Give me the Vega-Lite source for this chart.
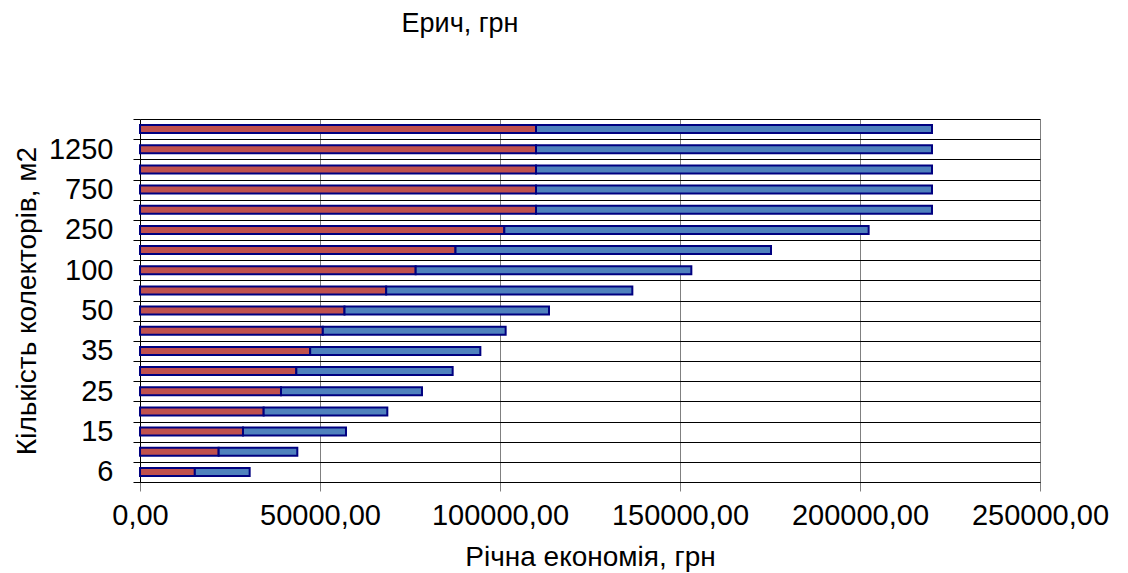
{
  "$schema": "https://vega.github.io/schema/vega-lite/v6.json",
  "width": 900,
  "height": 363,
  "autosize": {"type": "none"},
  "padding": {"left": 140, "top": 119, "right": 88, "bottom": 91},
  "background": "white",
  "config": {
    "font": "Liberation Sans",
    "view": {"stroke": null},
    "axis": {"labelColor": "black", "titleColor": "black", "titleFontWeight": "normal"}
  },
  "title": {
    "text": "Ерич, грн",
    "font": "Liberation Sans",
    "fontSize": 27,
    "fontWeight": "normal",
    "color": "black",
    "anchor": "middle",
    "dx": -130,
    "offset": 67
  },
  "data": {
    "values": [
      {"n": "6", "series": "s1", "k": 1, "value": 15230},
      {"n": "6", "series": "s2", "k": 2, "value": 15230},
      {"n": "10", "series": "s1", "k": 1, "value": 21850},
      {"n": "10", "series": "s2", "k": 2, "value": 21850},
      {"n": "15", "series": "s1", "k": 1, "value": 28610},
      {"n": "15", "series": "s2", "k": 2, "value": 28610},
      {"n": "20", "series": "s1", "k": 1, "value": 34350},
      {"n": "20", "series": "s2", "k": 2, "value": 34350},
      {"n": "25", "series": "s1", "k": 1, "value": 39165},
      {"n": "25", "series": "s2", "k": 2, "value": 39165},
      {"n": "30", "series": "s1", "k": 1, "value": 43425},
      {"n": "30", "series": "s2", "k": 2, "value": 43425},
      {"n": "35", "series": "s1", "k": 1, "value": 47270},
      {"n": "35", "series": "s2", "k": 2, "value": 47270},
      {"n": "40", "series": "s1", "k": 1, "value": 50785},
      {"n": "40", "series": "s2", "k": 2, "value": 50785},
      {"n": "50", "series": "s1", "k": 1, "value": 56805},
      {"n": "50", "series": "s2", "k": 2, "value": 56805},
      {"n": "75", "series": "s1", "k": 1, "value": 68380},
      {"n": "75", "series": "s2", "k": 2, "value": 68380},
      {"n": "100", "series": "s1", "k": 1, "value": 76575},
      {"n": "100", "series": "s2", "k": 2, "value": 76575},
      {"n": "150", "series": "s1", "k": 1, "value": 87640},
      {"n": "150", "series": "s2", "k": 2, "value": 87640},
      {"n": "250", "series": "s1", "k": 1, "value": 101200},
      {"n": "250", "series": "s2", "k": 2, "value": 101200},
      {"n": "500", "series": "s1", "k": 1, "value": 110000},
      {"n": "500", "series": "s2", "k": 2, "value": 110000},
      {"n": "750", "series": "s1", "k": 1, "value": 110000},
      {"n": "750", "series": "s2", "k": 2, "value": 110000},
      {"n": "1000", "series": "s1", "k": 1, "value": 110000},
      {"n": "1000", "series": "s2", "k": 2, "value": 110000},
      {"n": "1250", "series": "s1", "k": 1, "value": 110000},
      {"n": "1250", "series": "s2", "k": 2, "value": 110000},
      {"n": "1500", "series": "s1", "k": 1, "value": 110000},
      {"n": "1500", "series": "s2", "k": 2, "value": 110000}
    ]
  },
  "mark": {"type": "bar", "size": 8, "stroke": "#000080", "strokeWidth": 2},
  "encoding": {
    "y": {
      "field": "n",
      "type": "ordinal",
      "sort": ["1500", "1250", "1000", "750", "500", "250", "150", "100", "75", "50", "40", "35", "30", "25", "20", "15", "10", "6"],
      "scale": {"paddingInner": 0, "paddingOuter": 0},
      "axis": {
        "title": "Кількість колекторів, м2",
        "titleFontSize": 28,
        "titlePadding": 7,
        "labelFontSize": 29,
        "labelPadding": 20,
        "labelExpr": "indexof(['6','15','25','35','50','100','250','750','1250'], datum.value) >= 0 ? datum.label : ''",
        "tickBand": "extent",
        "grid": true,
        "gridColor": "black",
        "gridOpacity": 1,
        "tickColor": "black",
        "tickSize": 7,
        "domainColor": "black"
      }
    },
    "x": {
      "field": "value",
      "type": "quantitative",
      "stack": "zero",
      "scale": {"domain": [0, 250000], "nice": false},
      "axis": {
        "title": "Річна економія, грн",
        "titleFontSize": 28,
        "titlePadding": 13,
        "values": [0, 50000, 100000, 150000, 200000, 250000],
        "labelExpr": "replace(format(datum.value, '.2f'), '.', ',')",
        "labelFontSize": 29,
        "labelPadding": 10,
        "labelFlush": false,
        "labelOverlap": false,
        "grid": true,
        "gridColor": "#808080",
        "gridOpacity": 1,
        "tickColor": "#808080",
        "tickSize": 9,
        "domainColor": "black"
      }
    },
    "color": {
      "field": "series",
      "type": "nominal",
      "scale": {"domain": ["s1", "s2"], "range": ["#C0504D", "#4F81BD"]},
      "legend": null
    },
    "order": {"field": "k", "type": "quantitative"}
  }
}
